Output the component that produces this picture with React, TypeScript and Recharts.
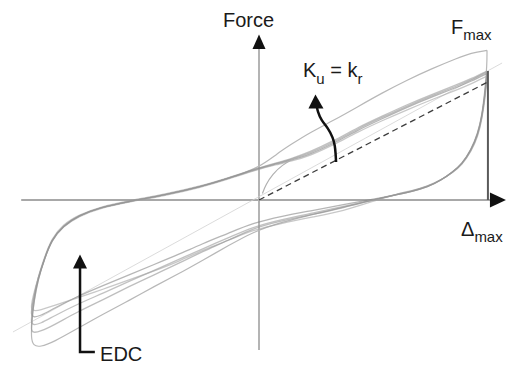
import React from 'react';
import { ComposedChart, Line, XAxis, YAxis, ReferenceDot } from 'recharts';

// displacement (normalised to Δmax) along the unloading and loading branches
const UPPER_D = [1.0, 0.93, 0.87, 0.76, 0.65, 0.54, 0.43, 0.33, 0.22, 0.14, 0.08, 0.0, -0.13, -0.26, -0.41, -0.57, -0.7, -0.79, -0.86, -0.91, -0.94, -0.97, -0.987, -0.996, -1.0];
const LOWER_D = [-0.99, -0.96, -0.9, -0.8, -0.68, -0.57, -0.46, -0.35, -0.25, -0.13, -0.03, 0.1, 0.24, 0.37, 0.5, 0.6, 0.67, 0.74, 0.8, 0.85, 0.89, 0.93, 0.96, 0.978, 0.991, 1.0];

// force (normalised to Fmax) for the first cycle and the stabilised cycles
const OUTER_UP = [1.16, 1.14, 1.1, 1.02, 0.93, 0.83, 0.72, 0.62, 0.52, 0.43, 0.36, 0.25, 0.17, 0.1, 0.04, -0.01, -0.06, -0.12, -0.2, -0.31, -0.45, -0.62, -0.78, -0.93, -1.07];
const OUTER_LOW = [-1.13, -1.14, -1.1, -1.0, -0.88, -0.78, -0.67, -0.57, -0.47, -0.35, -0.25, -0.17, -0.11, -0.055, 0.0, 0.04, 0.065, 0.1, 0.155, 0.22, 0.28, 0.39, 0.52, 0.66, 0.85, 1.05];

const CYCLE_A_UP = [0.98, 0.92, 0.875, 0.8, 0.72, 0.63, 0.54, 0.44, 0.35, 0.31, 0.28, 0.245, 0.17, 0.1, 0.04, -0.01, -0.06, -0.12, -0.2, -0.31, -0.45, -0.61, -0.74, -0.83, -0.89];
const CYCLE_A_LOW = [-0.91, -0.9, -0.84, -0.75, -0.66, -0.58, -0.5, -0.42, -0.34, -0.255, -0.18, -0.125, -0.08, -0.035, 0.005, 0.042, 0.07, 0.105, 0.155, 0.215, 0.275, 0.38, 0.5, 0.64, 0.8, 0.97];

const CYCLE_B_UP = [1.0, 0.94, 0.895, 0.82, 0.74, 0.65, 0.56, 0.46, 0.37, 0.32, 0.29, 0.25, 0.175, 0.105, 0.045, -0.005, -0.055, -0.115, -0.19, -0.3, -0.44, -0.6, -0.76, -0.88, -0.95];
const CYCLE_B_LOW = [-0.97, -0.96, -0.9, -0.81, -0.72, -0.63, -0.545, -0.46, -0.38, -0.29, -0.21, -0.15, -0.1, -0.05, 0.0, 0.04, 0.066, 0.102, 0.155, 0.218, 0.278, 0.385, 0.51, 0.65, 0.82, 0.99];

const CYCLE_C_UP = [0.96, 0.9, 0.855, 0.78, 0.7, 0.615, 0.525, 0.43, 0.34, 0.3, 0.275, 0.24, 0.165, 0.095, 0.035, -0.015, -0.065, -0.125, -0.205, -0.315, -0.455, -0.61, -0.72, -0.79, -0.84];
const CYCLE_C_LOW = [-0.86, -0.855, -0.82, -0.76, -0.69, -0.62, -0.55, -0.475, -0.39, -0.31, -0.235, -0.18, -0.13, -0.085, -0.01, 0.045, 0.072, 0.108, 0.158, 0.212, 0.272, 0.375, 0.49, 0.63, 0.78, 0.95];

const CYCLE_D_UP = [0.99, 0.93, 0.885, 0.81, 0.73, 0.64, 0.55, 0.45, 0.36, 0.315, 0.285, 0.25, 0.17, 0.1, 0.04, -0.01, -0.06, -0.12, -0.2, -0.31, -0.45, -0.62, -0.79, -0.93, -1.01];
const CYCLE_D_LOW = [-1.03, -1.02, -0.97, -0.87, -0.77, -0.67, -0.58, -0.49, -0.4, -0.31, -0.22, -0.16, -0.11, -0.06, 0.0, 0.04, 0.066, 0.1, 0.155, 0.218, 0.278, 0.385, 0.51, 0.65, 0.82, 0.98];

// first loading from rest
const VIRGIN_D = [0.015, 0.03, 0.06, 0.1, 0.16];
const VIRGIN_F = [0.05, 0.12, 0.2, 0.27, 0.33];

// Ku = kr secant and the light reference line
const SECANT = [{ d: 0, f: 0 }, { d: 1.004, f: 0.915 }];
const REF_LINE = [{ d: -1.079, f: -1.023 }, { d: 1.066, f: 1.062 }];

const toPts = (ds: number[], fs: number[]) => ds.map((d, i) => ({ d, f: fs[i] }));
const loop = (up: number[], low: number[]) => [...toPts(UPPER_D, up), ...toPts(LOWER_D, low), { d: UPPER_D[0], f: up[0] }];

const CYCLES = [
  { key: 'a', pts: loop(CYCLE_A_UP, CYCLE_A_LOW), color: '#858585' },
  { key: 'b', pts: loop(CYCLE_B_UP, CYCLE_B_LOW), color: '#9a9a9a' },
  { key: 'c', pts: loop(CYCLE_C_UP, CYCLE_C_LOW), color: '#a4a4a4' },
  { key: 'd', pts: loop(CYCLE_D_UP, CYCLE_D_LOW), color: '#929292' },
];

const FONT = 'Liberation Sans, Arial, sans-serif';

const line = (key: string, data: { d: number; f: number }[], stroke: string, width: number, extra: any = {}) => (
  <Line
    key={key}
    data={data}
    dataKey="f"
    type="linear"
    stroke={stroke}
    strokeWidth={width}
    dot={false}
    activeDot={false}
    isAnimationActive={false}
    {...extra}
  />
);

const label = (d: number, f: number, content: React.ReactNode) => (
  <ReferenceDot
    x={d}
    y={f}
    r={0}
    shape={(p: any) => (
      <text x={p.cx} y={p.cy} fontFamily={FONT} fontSize={20} fill="#1a1a1a">
        {content}
      </text>
    )}
  />
);

const App: React.FC = () => {
  return (
    <div>
      <style>{'body{margin:0}'}</style>
      <ComposedChart width={506} height={367} margin={{ top: 0, right: 0, bottom: 0, left: 0 }}>
        <XAxis dataKey="d" type="number" domain={[-1.136, 1.0833]} allowDataOverflow hide />
        <YAxis type="number" domain={[-1.2946, 1.5504]} allowDataOverflow hide />

        {/* axes */}
        {line('xaxis', [{ d: -1.043, f: 0 }, { d: 1.02, f: 0 }], '#a8a8a8', 2)}
        {line('yaxis', [{ d: 0, f: 1.2 }, { d: 0, f: -1.163 }], '#b4b4b4', 2)}
        {line('ref', REF_LINE, '#d2d2d2', 0.8)}

        {/* hysteresis cycles */}
        {line('outer', loop(OUTER_UP, OUTER_LOW), '#b8b8b8', 1.2, { type: 'basis' })}
        {CYCLES.map(c => line(c.key, c.pts, c.color, 1.3, { type: 'basis', strokeOpacity: 0.6 }))}
        {line('virgin', toPts(VIRGIN_D, VIRGIN_F), '#b0b0b0', 1.2, { type: 'basis' })}

        {line('secant', SECANT, '#3c3c3c', 1.3, { strokeDasharray: '6 4' })}
        {line('fmax', [{ d: 1.004, f: 0 }, { d: 1.004, f: 1.0 }], '#5a5a5a', 2)}

        {/* annotation arrows */}
        {line('karrow', [
          { d: 0.338, f: 0.295 }, { d: 0.336, f: 0.36 }, { d: 0.333, f: 0.42 }, { d: 0.325, f: 0.481 },
          { d: 0.303, f: 0.558 }, { d: 0.272, f: 0.62 }, { d: 0.257, f: 0.69 }, { d: 0.254, f: 0.72 },
        ], '#111', 2.5, { type: 'basis' })}
        {line('edc', [{ d: -0.785, f: -0.5 }, { d: -0.785, f: -1.178 }, { d: -0.72, f: -1.178 }], '#111', 2.5)}

        <ReferenceDot x={1.048} y={0} r={0} shape={(p: any) => (
          <polygon points={`${p.cx - 8},${p.cy - 7.5} ${p.cx + 8},${p.cy} ${p.cx - 8},${p.cy + 7.5}`} fill="#111" />
        )} />
        <ReferenceDot x={0} y={1.225} r={0} shape={(p: any) => (
          <polygon points={`${p.cx},${p.cy - 7.5} ${p.cx - 6.5},${p.cy + 7} ${p.cx + 6.5},${p.cy + 7}`} fill="#111" />
        )} />
        <ReferenceDot x={0.252} y={0.76} r={0} shape={(p: any) => (
          <polygon points={`${p.cx - 1},${p.cy - 7.5} ${p.cx - 8},${p.cy + 6.5} ${p.cx + 7},${p.cy + 6.5}`} fill="#111" />
        )} />
        <ReferenceDot x={-0.785} y={-0.477} r={0} shape={(p: any) => (
          <polygon points={`${p.cx},${p.cy - 7} ${p.cx - 7},${p.cy + 7} ${p.cx + 7},${p.cy + 7}`} fill="#111" />
        )} />

        {/* labels */}
        {label(-0.158, 1.341, 'Force')}
        {label(0.842, 1.287, <>F<tspan dy={6} fontSize={15}>max</tspan></>)}
        {label(0.886, -0.279, <>Δ<tspan dy={6} fontSize={15}>max</tspan></>)}
        {label(0.193, 0.953, <>K<tspan dy={7} fontSize={15}>u</tspan><tspan dy={-7}> = k</tspan><tspan dy={7} fontSize={15}>r</tspan></>)}
        {label(-0.697, -1.248, 'EDC')}
      </ComposedChart>
    </div>
  );
};

export default App;
